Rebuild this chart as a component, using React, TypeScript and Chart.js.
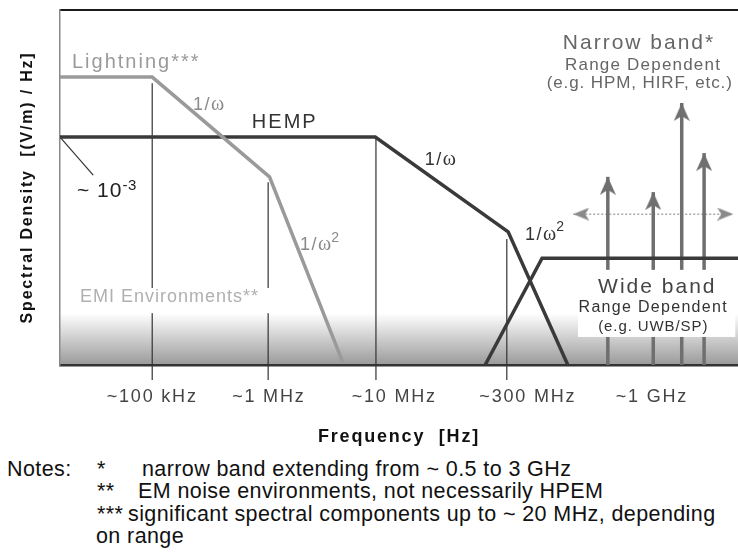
import React, { useEffect, useRef } from 'react';
import { Chart, registerables } from 'chart.js';

Chart.register(...registerables);

// ---------- data (abstract schematic units: x 0..100, y 0..100) ----------
const tickPositions = [13.6, 30.8, 49.3, 69.0, 87.3];
const tickLabels = ['~100 kHz', '~1 MHz', '~10 MHz', '~300 MHz', '~1 GHz'];

const lightningX = [0, 13.6, 30.9, 41.7];
const lightningY = [81.1, 81.1, 53.0, 0.8];

const hempX = [0, 46.5, 66.1, 74.9];
const hempY = [64.2, 64.2, 37.5, 0];

const wideX = [62.7, 71.1, 100];
const wideY = [0, 30.1, 30.1];

const narrowX = [80.8, 87.5, 91.7, 95.0];
const narrowTop = [53.0, 48.7, 73.8, 59.7];

const spreadX = [75.7, 99.3];
const spreadY = [42.5, 42.5];

const markerX = [13.6, 30.7, 46.6, 65.9];
const markerTop = [79.4, 51.5, 64.2, 35.5];
const markerBottom = -4.2;

const pointerX = [0, 4.9];
const pointerY = [64.2, 53.5];

const noteLines = [
  ['Notes:', '*', 'narrow band extending from ~ 0.5 to 3 GHz'],
  ['', '**', 'EM noise environments, not necessarily HPEM'],
  ['', '***', 'significant spectral components up to ~ 20 MHz, depending'],
  ['', '', 'on range'],
];

// ---------- styling helpers ----------
const SANS = "'Liberation Sans', Arial, Helvetica, sans-serif";
const SERIF = "'Liberation Serif', 'Times New Roman', serif";

type Run = { t: string; s: number; serif?: boolean; bold?: boolean; dy?: number; ls?: number };
type Note = { at: [number, number]; align: 'left' | 'center'; color: string; runs: Run[] };

const omega = (c: string, x: number, y: number, sup: boolean, supDy: number): Note => ({
  at: [x, y],
  align: 'left',
  color: c,
  runs: [
    { t: '1/', s: 18, ls: 1.5 },
    { t: 'ω', s: 20, serif: true },
    ...(sup ? [{ t: '2', s: 14, dy: supDy, ls: 0 }] : []),
  ],
});

const annotations: Note[] = [
  { at: [1.77, 85.35], align: 'left', color: '#9a9a9a', runs: [{ t: 'Lightning***', s: 20, ls: 2 }] },
  { at: [28.3, 68.3], align: 'left', color: '#333333', runs: [{ t: 'HEMP', s: 20, ls: 2 }] },
  omega('#8a8a8a', 19.6, 73.2, false, 0),
  omega('#333333', 53.8, 57.7, false, 0),
  omega('#8a8a8a', 35.4, 33.8, true, -7),
  omega('#333333', 68.6, 36.6, true, -8),
  {
    at: [2.5, 49.0],
    align: 'left',
    color: '#222222',
    runs: [
      { t: '~ 10', s: 21, ls: 1 },
      { t: '-3', s: 15, dy: -5.5, ls: 0.5 },
    ],
  },
  { at: [2.95, 19.2], align: 'left', color: '#b0b0b0', runs: [{ t: 'EMI Environments**', s: 18, ls: 1 }] },
  { at: [85.4, 90.7], align: 'center', color: '#666666', runs: [{ t: 'Narrow band*', s: 21, ls: 2 }] },
  { at: [86.0, 84.5], align: 'center', color: '#666666', runs: [{ t: 'Range Dependent', s: 17, ls: 1.2 }] },
  { at: [85.5, 79.4], align: 'center', color: '#666666', runs: [{ t: '(e.g. HPM, HIRF, etc.)', s: 17, ls: 0.9 }] },
  { at: [88.1, 22.0], align: 'center', color: '#444444', runs: [{ t: 'Wide band', s: 21, ls: 2 }] },
  { at: [87.5, 16.1], align: 'center', color: '#333333', runs: [{ t: 'Range Dependent', s: 16, ls: 1.3 }] },
  { at: [87.5, 10.7], align: 'center', color: '#333333', runs: [{ t: '(e.g. UWB/SP)', s: 15, ls: 0.9 }] },
];

// white boxes [x0, x1, yTop, yBottom] in data units
const whiteBoxes: [number, number, number, number][] = [
  [1.18, 35.1, 21.7, 14.6],
  [76.4, 99.6, 26.8, 7.9],
];

function fontOf(r: Run) {
  return `${r.bold ? 'bold ' : ''}${r.s}px ${r.serif ? SERIF : SANS}`;
}

function drawRuns(ctx: any, n: Note, x: number, y: number) {
  ctx.save();
  ctx.fillStyle = n.color;
  ctx.textBaseline = 'middle';
  ctx.textAlign = 'left';
  let total = 0;
  const widths: number[] = [];
  for (const r of n.runs) {
    ctx.font = fontOf(r);
    ctx.letterSpacing = `${r.ls ?? 0}px`;
    const w = ctx.measureText(r.t).width;
    widths.push(w);
    total += w;
  }
  let cx = n.align === 'center' ? x - total / 2 : x;
  n.runs.forEach((r, i) => {
    ctx.font = fontOf(r);
    ctx.letterSpacing = `${r.ls ?? 0}px`;
    ctx.fillText(r.t, cx, y + (r.dy ?? 0));
    cx += widths[i];
  });
  ctx.restore();
}

function makeArrow(w: number, len: number, notch: number, color: string) {
  const c = document.createElement('canvas');
  c.width = w;
  c.height = len * 2;
  const g = c.getContext('2d')!;
  g.fillStyle = color;
  g.beginPath();
  g.moveTo(w / 2, len); // tip at canvas centre
  g.lineTo(w, len * 2);
  g.lineTo(w / 2, len * 2 - notch);
  g.lineTo(0, len * 2);
  g.closePath();
  g.fill();
  return c;
}

const decorPlugin = {
  id: 'decor',
  beforeDraw(chart: any) {
    const { ctx, chartArea, scales } = chart;
    const y = scales.y;
    const gTop = y.getPixelForValue(14.6);
    const grad = ctx.createLinearGradient(0, gTop, 0, chartArea.bottom);
    grad.addColorStop(0, '#ffffff');
    grad.addColorStop(1, '#9a9a9a');
    ctx.save();
    ctx.fillStyle = grad;
    ctx.fillRect(chartArea.left, gTop, chartArea.right - chartArea.left, chartArea.bottom - gTop);
    ctx.strokeStyle = '#1a1a1a';
    ctx.lineWidth = 2;
    ctx.beginPath();
    ctx.moveTo(chartArea.left, chartArea.top);
    ctx.lineTo(chartArea.right, chartArea.top);
    ctx.stroke();
    ctx.restore();
    ctx.letterSpacing = '1.8px';
  },
  beforeDatasetsDraw(chart: any) {
    chart.ctx.letterSpacing = '0px';
  },
  afterDatasetsDraw(chart: any) {
    const { ctx, scales } = chart;
    const xs = scales.x;
    const ys = scales.y;
    ctx.save();
    ctx.fillStyle = '#ffffff';
    for (const [x0, x1, yt, yb] of whiteBoxes) {
      const px0 = xs.getPixelForValue(x0);
      const px1 = xs.getPixelForValue(x1);
      const py0 = ys.getPixelForValue(yt);
      const py1 = ys.getPixelForValue(yb);
      ctx.fillRect(px0, py0, px1 - px0, py1 - py0);
    }
    ctx.restore();
    for (const n of annotations) {
      drawRuns(ctx, n, xs.getPixelForValue(n.at[0]), ys.getPixelForValue(n.at[1]));
    }
  },
};

export default function App() {
  const ref = useRef<HTMLCanvasElement>(null);

  useEffect(() => {
    const bigArrow = makeArrow(16, 18, 5, '#6f6f6f');
    const smallArrow = makeArrow(13, 16, 4, '#8a8a8a');

    const line = (xs: number[], ys: number[], color: string, width: number, extra: any = {}) => ({
      data: xs.map((x, i) => ({ x, y: ys[i] })),
      borderColor: color,
      backgroundColor: color,
      borderWidth: width,
      showLine: true,
      pointRadius: 0,
      tension: 0,
      ...extra,
    });

    const datasets: any[] = [
      line(lightningX, lightningY, '#9a9a9a', 3.5),
      line(hempX, hempY, '#3a3a3a', 3.5),
      line(wideX, wideY, '#3a3a3a', 3.5),
      ...narrowX.map((x, i) =>
        line([x, x], [0, narrowTop[i]], '#6f6f6f', 3.5, {
          pointRadius: [0, 8],
          pointStyle: bigArrow,
          clip: false,
        })
      ),
      line(spreadX, spreadY, '#a8a8a8', 1.5, {
        borderDash: [2, 2],
        pointRadius: [8, 8],
        pointStyle: smallArrow,
        pointRotation: [-90, 90],
        clip: false,
      }),
      ...markerX.map((x, i) =>
        line([x, x], [markerTop[i], markerBottom], '#333333', 1.2, { clip: false })
      ),
      line(pointerX, pointerY, '#333333', 1.2),
    ];

    const chart = new Chart(ref.current!, {
      type: 'scatter',
      data: { datasets },
      plugins: [decorPlugin],
      options: {
        animation: false,
        responsive: false,
        devicePixelRatio: 1,
        events: [],
        layout: { autoPadding: false, padding: { top: 10, left: 0, right: 0, bottom: 0 } },
        plugins: { legend: { display: false }, tooltip: { enabled: false } },
        scales: {
          x: {
            type: 'linear',
            min: 0,
            max: 100,
            afterBuildTicks: (s: any) => {
              s.ticks = tickPositions.map((v) => ({ value: v }));
            },
            afterFit: (s: any) => {
              s.height = 85;
              s.paddingLeft = 0;
              s.paddingRight = 0;
            },
            ticks: {
              callback: (_v: any, i: number) => tickLabels[i],
              font: { size: 18, family: SANS },
              color: '#444444',
              padding: 21.2,
              maxRotation: 0,
              autoSkip: false,
            },
            grid: { display: false, drawTicks: false },
            border: { color: '#333333', width: 2.5 },
            title: {
              display: true,
              text: 'Frequency  [Hz]',
              font: { size: 18, weight: 'bold', family: SANS },
              color: '#111111',
              padding: { top: 0, bottom: 2.2 },
            },
          },
          y: {
            type: 'linear',
            min: 0,
            max: 100,
            afterBuildTicks: (s: any) => {
              s.ticks = [];
            },
            afterFit: (s: any) => {
              s.width = 60;
              s.paddingTop = 0;
              s.paddingBottom = 0;
            },
            ticks: { display: false },
            grid: { display: false, drawTicks: false },
            border: { color: '#8a8a8a', width: 1.5 },
            title: {
              display: true,
              text: 'Spectral Density  [(V/m) / Hz]',
              font: { size: 16, weight: 'bold', family: SANS },
              color: '#111111',
              padding: { top: 18.4, bottom: 0 },
            },
          },
        },
      } as any,
    });
    return () => chart.destroy();
  }, []);

  const rowTops = [456.5, 479, 501.5, 524];
  return (
    <div style={{ position: 'absolute', left: 0, top: 0, width: 738, height: 559, background: '#fff', overflow: 'hidden' }}>
      <canvas ref={ref} width={738} height={450} style={{ display: 'block' }} />
      {noteLines.map((row, i) => (
        <div
          key={i}
          style={{
            position: 'absolute',
            top: rowTops[i],
            left: 0,
            width: 738,
            height: 24,
            lineHeight: '24px',
            fontFamily: SANS,
            fontSize: 21.5,
            letterSpacing: 0.4,
            color: '#111',
            whiteSpace: 'nowrap',
          }}
        >
          {row[0] && <span style={{ position: 'absolute', left: 7 }}>{row[0]}</span>}
          {row[1] && <span style={{ position: 'absolute', left: 97 }}>{row[1]}</span>}
          <span style={{ position: 'absolute', left: i === 0 ? 142 : i === 1 ? 138 : i === 2 ? 128 : 96 }}>{row[2]}</span>
        </div>
      ))}
    </div>
  );
}
